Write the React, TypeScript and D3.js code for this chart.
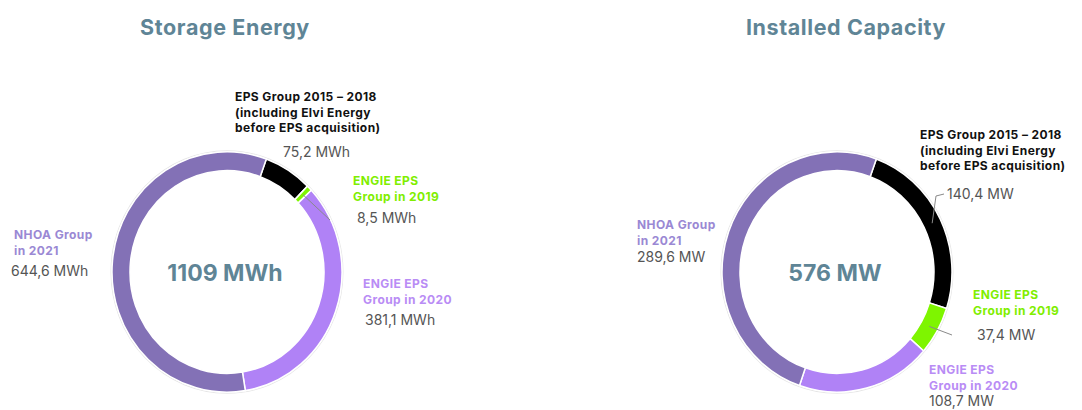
import { useMemo } from "react";
import * as d3 from "d3";

// segment names, in clockwise order starting from the black slice
const segmentKeys = ["eps", "engie2019", "engie2020", "nhoa"];
const segmentColors = ["#000000", "#7ef500", "#b082f6", "#8371b6"];
const labelColors = ["#111111", "#80ee00", "#b98cf5", "#9a88d4"];
const segmentLabels = [
  ["EPS Group 2015 – 2018", "(including Elvi Energy", "before EPS acquisition)"],
  ["ENGIE EPS", "Group in 2019"],
  ["ENGIE EPS", "Group in 2020"],
  ["NHOA Group", "in 2021"],
];

const storageValues = [75.2, 8.5, 381.1, 644.6];
const storageText = ["75,2 MWh", "8,5 MWh", "381,1 MWh", "644,6 MWh"];
const capacityValues = [140.4, 37.4, 108.7, 289.6];
const capacityText = ["140,4 MW", "37,4 MW", "108,7 MW", "289,6 MW"];

const titleColor = "#5f8596";
const valueColor = "#555555";
const font = "Inter, 'Open Sans', Arial, sans-serif";

type LabelPos = { x: number; y: number; vx: number; vy: number };

type DonutProps = {
  cx: number;
  cy: number;
  titleX: number;
  title: string;
  total: string;
  values: number[];
  valueText: string[];
  labels: LabelPos[];
  leaders: { idx: number; pts: [number, number][] }[];
};

function Donut({ cx, cy, titleX, title, total, values, valueText, labels, leaders }: DonutProps) {
  const rOuter = 115;
  const rInner = 97;
  const sy = 1.045;
  const start = (20 * Math.PI) / 180;

  const arcs = useMemo(
    () =>
      d3
        .pie<number>()
        .sort(null)
        .startAngle(start)
        .endAngle(start + 2 * Math.PI)(values),
    [values]
  );
  const arcGen = d3.arc<d3.PieArcDatum<number>>().innerRadius(rInner).outerRadius(rOuter);

  // midpoint of the ring for leader starts
  const mid = (a: d3.PieArcDatum<number>): [number, number] => {
    const ang = (a.startAngle + a.endAngle) / 2;
    const r = (rInner + rOuter) / 2;
    return [cx + r * Math.sin(ang), cy - r * Math.cos(ang) * sy];
  };

  return (
    <g fontFamily={font}>
      <text x={titleX} y={35} textAnchor="middle" fontSize={21.5} fontWeight={700} fill={titleColor} letterSpacing={0.6}>
        {title}
      </text>
      <g transform={`translate(${cx},${cy}) scale(1,${sy})`}>
        <circle r={rOuter + 1} fill="none" stroke="#e6e6e6" strokeWidth={1} />
        {arcs.map((a, i) => (
          <path key={segmentKeys[i]} d={arcGen(a) || ""} fill={segmentColors[i]} stroke="#fff" strokeWidth={1.5} />
        ))}
      </g>
      {leaders.map((l, k) => {
        const p0 = mid(arcs[l.idx]);
        const line = d3.line()([p0, ...l.pts]);
        return <path key={k} d={line || ""} fill="none" stroke="#8a8a8a" strokeWidth={1} />;
      })}
      <text x={cx - 2} y={cy + 9} textAnchor="middle" fontSize={23} fontWeight={700} fill={titleColor}>
        {total}
      </text>
      {labels.map((p, i) => (
        <g key={segmentKeys[i]}>
          <text x={p.x} y={p.y} fontSize={12} fontWeight={700} fill={labelColors[i]} letterSpacing={0.4}>
            {segmentLabels[i].map((line, j) => (
              <tspan key={j} x={p.x} dy={j === 0 ? 0 : 15.5}>
                {line}
              </tspan>
            ))}
          </text>
          <text x={p.vx} y={p.vy} fontSize={14} fill={valueColor}>
            {valueText[i]}
          </text>
        </g>
      ))}
    </g>
  );
}

export default function App() {
  const leftLabels: LabelPos[] = [
    { x: 235, y: 101, vx: 283, vy: 157 },
    { x: 353, y: 185, vx: 357, vy: 223 },
    { x: 363, y: 288, vx: 365, vy: 325 },
    { x: 14, y: 239, vx: 11, vy: 276 },
  ];
  const rightLabels: LabelPos[] = [
    { x: 920, y: 139, vx: 947, vy: 199 },
    { x: 973, y: 299, vx: 977, vy: 340 },
    { x: 929, y: 374, vx: 929, vy: 406 },
    { x: 637, y: 229, vx: 637, vy: 262 },
  ];

  return (
    <svg width={1082} height={410} style={{ position: "absolute", left: 0, top: 0, background: "#fff" }}>
      <Donut
        cx={227}
        cy={272}
        titleX={225}
        title="Storage Energy"
        total="1109 MWh"
        values={storageValues}
        valueText={storageText}
        labels={leftLabels}
        leaders={[{ idx: 1, pts: [[330, 220]] }]}
      />
      <Donut
        cx={837}
        cy={272}
        titleX={846}
        title="Installed Capacity"
        total="576 MW"
        values={capacityValues}
        valueText={capacityText}
        labels={rightLabels}
        leaders={[
          { idx: 0, pts: [[936, 196], [944, 194]] },
          { idx: 1, pts: [[952, 335]] },
        ]}
      />
    </svg>
  );
}
